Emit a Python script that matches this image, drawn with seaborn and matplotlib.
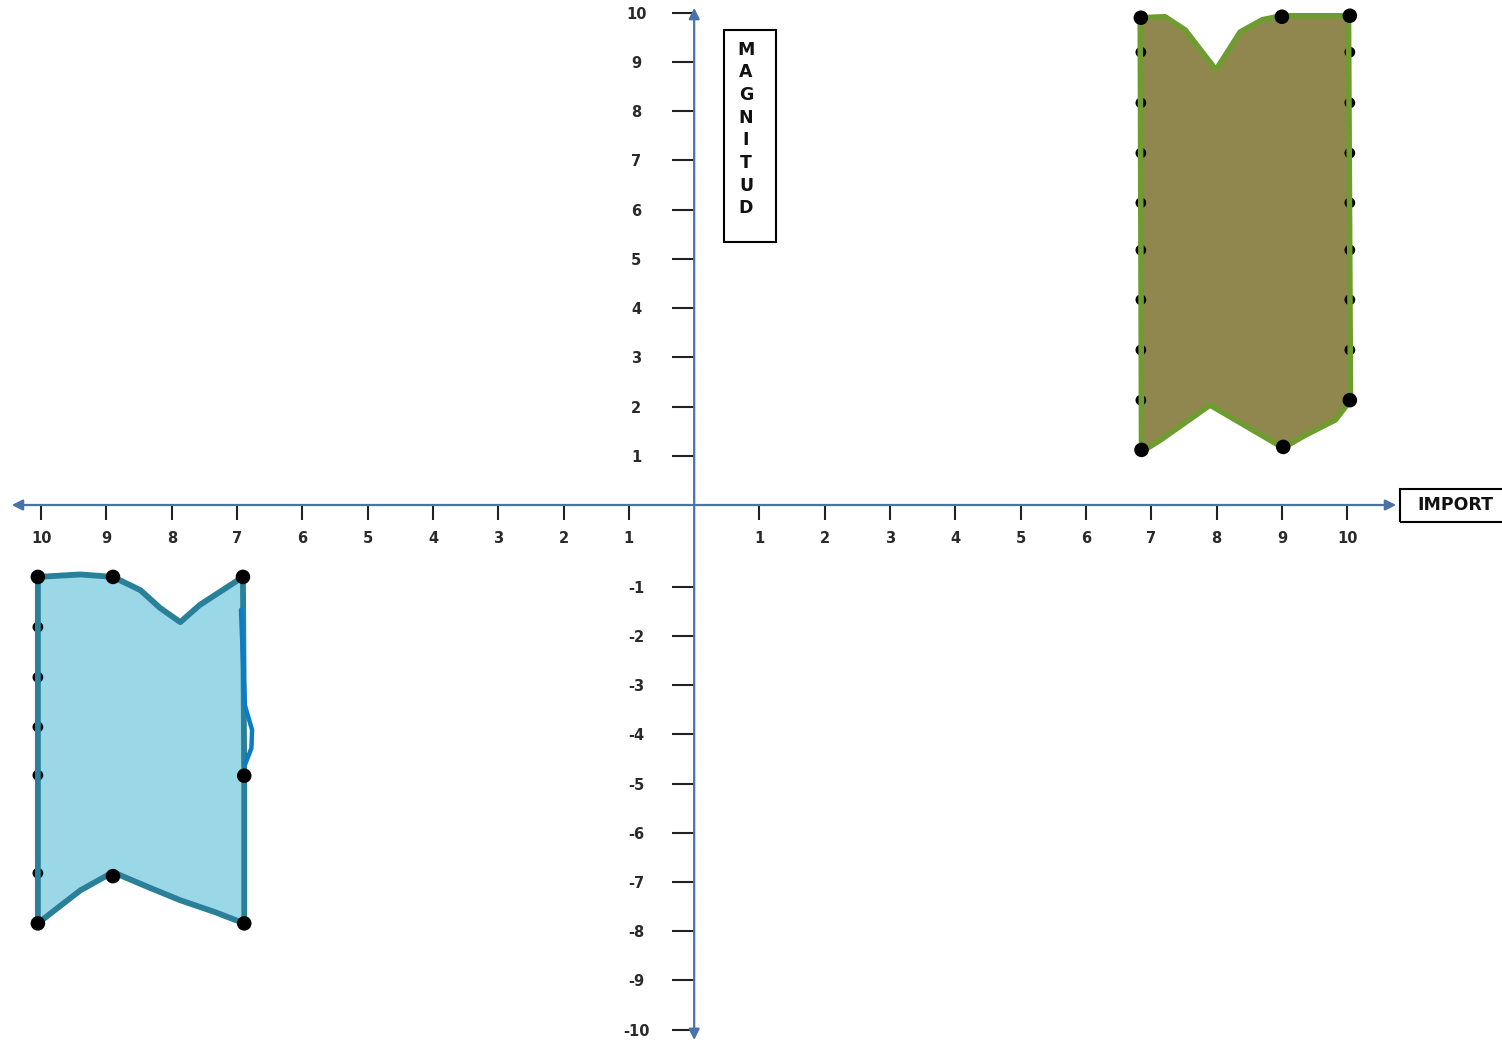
import numpy as np
import matplotlib
matplotlib.use("Agg")
import matplotlib.pyplot as plt
from matplotlib.patches import Rectangle
import seaborn as sns

# ---------------- data ----------------
x_ticks = [-10, -9, -8, -7, -6, -5, -4, -3, -2, -1, 1, 2, 3, 4, 5, 6, 7, 8, 9, 10]
x_tick_labels = ["10", "9", "8", "7", "6", "5", "4", "3", "2", "1",
                 "1", "2", "3", "4", "5", "6", "7", "8", "9", "10"]
y_ticks = [-10, -9, -8, -7, -6, -5, -4, -3, -2, -1, 1, 2, 3, 4, 5, 6, 7, 8, 9, 10]
y_tick_labels = ["-10", "-9", "-8", "-7", "-6", "-5", "-4", "-3", "-2", "-1",
                 "1", "2", "3", "4", "5", "6", "7", "8", "9", "10"]

# green figure (quadrant I) outline
green_x = [6.83, 7.21, 7.52, 7.99, 8.36, 8.70, 9.00, 10.02, 10.05, 9.82, 9.36, 9.02, 7.90, 7.14, 6.85, 6.83]
green_y = [9.90, 9.92, 9.65, 8.84, 9.61, 9.86, 9.94, 9.94, 2.13, 1.73, 1.42, 1.16, 2.03, 1.32, 1.08, 9.90]
# green small dots (along the sides)
green_dot_x = [6.84] * 8 + [10.04] * 7
green_dot_y = [9.2, 8.17, 7.15, 6.14, 5.18, 4.17, 3.15, 2.13,
               9.2, 8.17, 7.15, 6.14, 5.18, 4.17, 3.15]
# green corner dots
green_big_x = [6.85, 9.02, 10.04, 10.04, 9.0, 6.84]
green_big_y = [1.12, 1.18, 2.13, 9.94, 9.92, 9.9]

# blue figure (quadrant III) outline
blue_x = [-10.05, -9.40, -8.90, -8.48, -8.18, -7.87, -7.57, -6.91, -6.89, -6.89,
          -7.34, -7.87, -8.33, -8.90, -9.40, -9.79, -10.05, -10.05]
blue_y = [-0.88, -0.85, -0.88, -1.07, -1.43, -1.72, -1.37, -0.88, -4.84, -7.84,
          -7.61, -7.37, -7.12, -6.80, -7.17, -7.57, -7.84, -0.88]
# blue stroke on the right side
stroke_x = [-6.94, -6.91, -6.88, -6.77, -6.78, -6.88]
stroke_y = [-1.47, -2.49, -3.41, -3.91, -4.28, -4.62]
# blue dots
blue_dot_x = [-10.05] * 5
blue_dot_y = [-1.82, -2.84, -3.85, -4.83, -6.82]
blue_big_x = [-10.05, -8.90, -6.91, -6.89, -6.89, -8.90, -10.05]
blue_big_y = [-0.88, -0.88, -0.88, -4.84, -7.84, -6.88, -7.84]

# ---------------- style ----------------
sns.set_style("white")
plt.rcParams["font.family"] = ["DejaVu Sans"]

AXC = "#4A72AA"
TXT = "#2a2a2a"

fig = plt.figure(figsize=(15.02, 10.42), dpi=100)
ax = fig.add_axes([0, 0, 1, 1])

GAP = 0.66
def fwd(y):
    return np.interp(y, [-40, -1, 0, 40], [-40 - GAP, -1 - GAP, 0, 40])
def inv(t):
    return np.interp(t, [-40 - GAP, -1 - GAP, 0, 40], [-40, -1, 0, 40])
ax.set_yscale("function", functions=(fwd, inv))

ax.set_xlim(-10.63, 12.37)
ax.set_ylim(-10.25, 10.26)

# shapes
ax.fill(green_x, green_y, color="#90874F", zorder=2, lw=0)
sns.scatterplot(x=green_dot_x, y=green_dot_y, s=60, color="black", edgecolor="none", ax=ax, zorder=3)
ax.plot(green_x, green_y, color="#6E9C30", linewidth=4.0, solid_joinstyle="round",
        solid_capstyle="round", zorder=4)
sns.scatterplot(x=green_big_x, y=green_big_y, s=110, color="black", edgecolor="none", ax=ax, zorder=5)

ax.fill(blue_x, blue_y, color="#9AD8E8", zorder=2, lw=0)
sns.scatterplot(x=blue_dot_x, y=blue_dot_y, s=60, color="black", edgecolor="none", ax=ax, zorder=3)
ax.plot(blue_x, blue_y, color="#2A8098", linewidth=4.2, solid_joinstyle="round",
        solid_capstyle="round", zorder=4)
ax.plot(stroke_x, stroke_y, color="#0E7CC4", linewidth=3.2, solid_joinstyle="round",
        solid_capstyle="round", zorder=4)
sns.scatterplot(x=blue_big_x, y=blue_big_y, s=110, color="black", edgecolor="none", ax=ax, zorder=5)

# axes with arrows
for s in ax.spines.values():
    s.set_visible(False)
ax.spines["left"].set_position(("data", 0))
ax.spines["bottom"].set_position(("data", 0))
ax.annotate("", xy=(10.75, 0), xytext=(-10.45, 0),
            arrowprops=dict(arrowstyle="<|-|>", lw=1.6, color=AXC, mutation_scale=16,
                            shrinkA=0, shrinkB=0), zorder=1)
ax.annotate("", xy=(0, 10.1), xytext=(0, -10.21),
            arrowprops=dict(arrowstyle="<|-|>", lw=1.6, color=AXC, mutation_scale=16,
                            shrinkA=0, shrinkB=0), zorder=1)

ax.xaxis.set_ticks_position("bottom")
ax.yaxis.set_ticks_position("left")
ax.set_xticks(x_ticks)
ax.set_xticklabels(x_tick_labels, fontweight="bold", color=TXT, fontsize=10.5)
ax.set_yticks(y_ticks)
ax.set_yticklabels(y_tick_labels, fontweight="bold", color=TXT, fontsize=10.5)
ax.tick_params(axis="x", direction="out", length=10.8, width=1.5, color="#222222", pad=8)
ax.tick_params(axis="y", direction="out", length=15.8, width=1.5, color="#222222", pad=26)
for lbl in ax.get_yticklabels():
    lbl.set_horizontalalignment("center")
ax.minorticks_off()
ax.set_xlabel("")
ax.set_ylabel("")

# axis title boxes
W, H = 1502.0, 1042.0
fig.patches.append(Rectangle((724 / W, 1 - 242 / H), 52 / W, 212 / H, transform=fig.transFigure,
                             fill=False, edgecolor="black", lw=1.5))
fig.text(746 / W, 1 - 129 / H, "M\nA\nG\nN\nI\nT\nU\nD", ha="center", va="center",
         fontsize=12.5, fontweight="bold", color="#111111", linespacing=1.33)
fig.patches.append(Rectangle((1400 / W, 1 - 522 / H), 110 / W, 33 / H, transform=fig.transFigure,
                             fill=False, edgecolor="black", lw=1.5))
fig.text(1455 / W, 1 - 505 / H, "IMPORT", ha="center", va="center",
         fontsize=12.5, fontweight="bold", color="#111111")

fig.savefig("out.png", dpi=100)
